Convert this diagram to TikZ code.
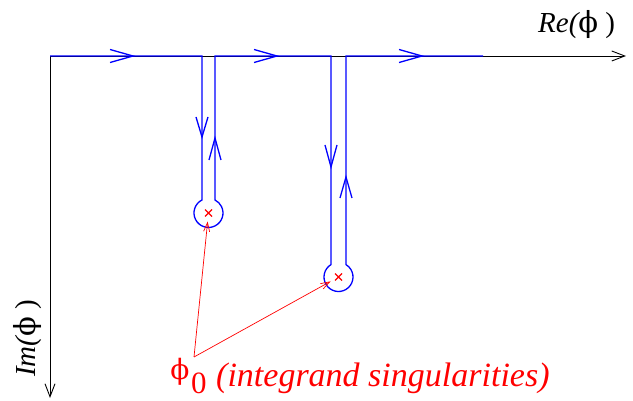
\documentclass[tikz,border=0pt]{standalone}
\usepackage{fontspec}
\setmainfont{Liberation Serif}
\newfontfamily\timesfont{Liberation Serif}
\newfontfamily\phifont{DejaVu Serif}
\usetikzlibrary{arrows.meta,shapes.misc}
\begin{document}
\begin{tikzpicture}[x=1pt,y=-1pt,
  axis/.style={draw=black,line width=0.9pt,-{Straight Barb[length=13pt,width=10pt]}},
  contour/.style={draw=blue,line width=1.3pt,line join=miter},
  chev/.style={draw=blue,line width=1.3pt},
  sing/.style={cross out,draw=red,line width=1.1pt,minimum size=7pt,inner sep=0pt,outer sep=0pt},
  pointer/.style={draw=red,line width=0.7pt,shorten >=5pt,-{Straight Barb[length=9pt,width=6pt]}},
  lbl/.style={inner sep=0pt,font=\timesfont\fontsize{29}{34}\selectfont},
  redlbl/.style={inner sep=0pt,text=red},
]
\useasboundingbox (0,0) rectangle (633,401);
% axes
\coordinate (O) at (50,56);
\coordinate (xend) at (626,56);
\coordinate (yend) at (50,398);
\draw[axis] (O) -- (xend);
\draw[axis] (O) -- (yend);
% contour
\coordinate (c1) at (202,56);
\coordinate (c2) at (215,56);
\coordinate (c3) at (331,56);
\coordinate (c4) at (346,56);
\coordinate (cend) at (483,56);
\draw[contour] (O) -- (c1) -- (202,200)
  arc[start angle=243.4,end angle=-63.4,radius=14.5] -- (c2) -- (c3) -- (331,264.6)
  arc[start angle=238.85,end angle=-58.85,radius=14.5] -- (c4) -- (cend);
% direction chevrons
\draw[chev] (110,49.5) -- (133,56) -- (110,62.5);
\draw[chev] (254,49.5) -- (277,56) -- (254,62.5);
\draw[chev] (399,49.5) -- (422,56) -- (399,62.5);
\draw[chev] (196,117) -- (202,137) -- (208,117);
\draw[chev] (209,160) -- (215,138) -- (221,160);
\draw[chev] (325,145) -- (331,167) -- (337,145);
\draw[chev] (340,198) -- (346,177) -- (352,198);
% singularities
\node[sing] (s1) at (208.5,213) {};
\node[sing] (s2) at (338.5,277) {};
% labels
\node[lbl, anchor=base west] (re) at (538,33) {\itshape Re(\upshape{\phifont ϕ} )};
\node[lbl, rotate=90, anchor=base west] (im) at (35,377) {\itshape Im(\upshape{\phifont ϕ} )};
\node[redlbl, font=\fontsize{28}{34}\selectfont\phifont] (phi) at (180,372) {ϕ};
\node[redlbl, font=\timesfont\fontsize{31}{36}\selectfont, anchor=base west] (zero) at (191,393) {0};
\node[redlbl, font=\timesfont\fontsize{34}{40}\selectfont\itshape, anchor=base west] (desc) at (216,387) {(integrand singularities)};
\coordinate (v) at (194,357);
\draw[pointer] (v) -- (s1);
\draw[pointer] (v) -- (s2);
\end{tikzpicture}
\end{document}
